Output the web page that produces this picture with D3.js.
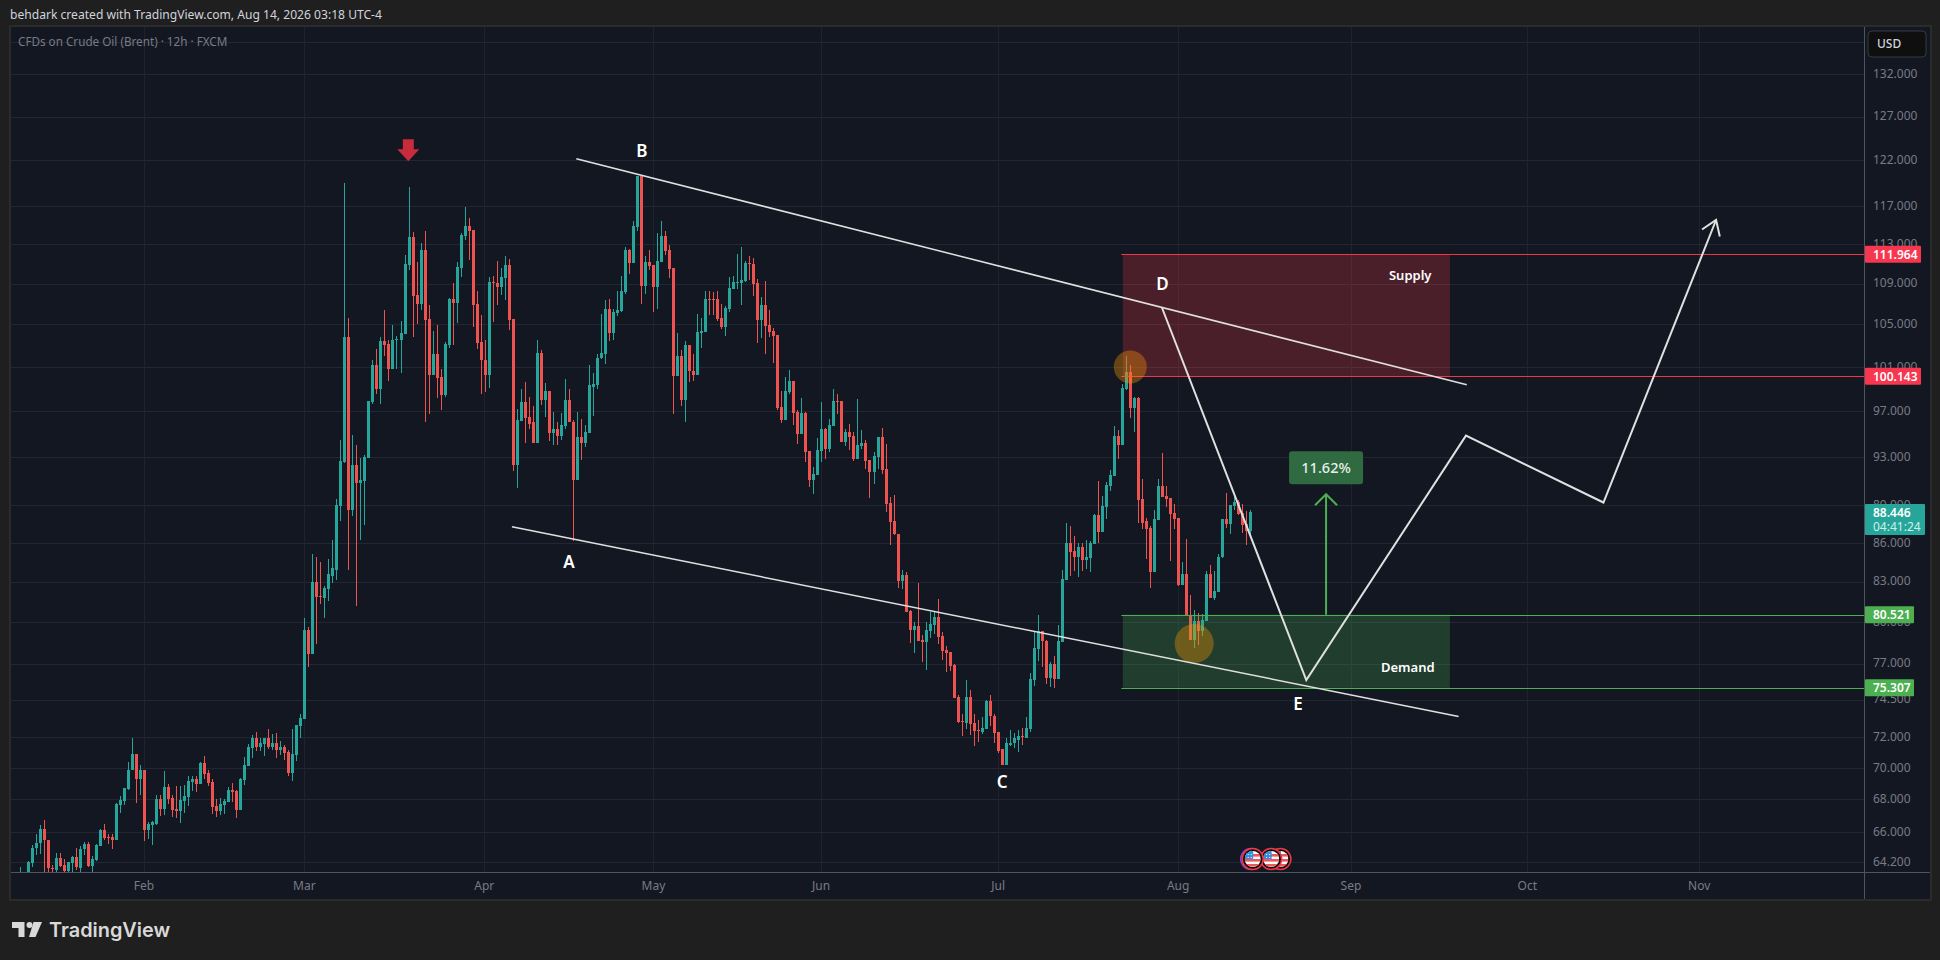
<!DOCTYPE html>
<html><head><meta charset="utf-8">
<script src="https://cdn.jsdelivr.net/npm/d3@7/dist/d3.min.js"></script>
<style>
html,body{margin:0;padding:0;background:#1f1f1f;overflow:hidden}
svg{display:block}
text{font-family:"Noto Sans",sans-serif}
</style></head><body>
<svg id="c" width="1940" height="960"></svg>
<script>
// ---------- DATA (Brent CFD, 12h bars) ----------
const opens=[63.0,63.4,63.4,64.18,65.03,65.32,66.2,65.55,63.85,63.75,
64.43,64.05,63.7,64.16,64.49,63.87,64.99,65.26,63.99,64.33,
65.17,66.15,65.73,65.7,65.5,67.65,67.9,68.63,69.83,70.86,
69.28,69.83,66.15,66.4,66.46,68.02,67.4,68.77,68.08,67.4,
67.27,67.9,68.15,69.1,69.27,68.96,70.28,69.65,69.08,67.58,
67.27,67.65,67.83,68.58,68.52,67.33,69.2,70.14,71.25,71.9,
71.31,71.55,71.95,71.36,71.63,71.15,71.36,71.03,69.65,70.8,
72.7,73.2,79.4,77.7,82.95,81.9,81.75,82.4,83.45,83.9,
88.9,92.6,103.8,88.6,92.3,90.8,91,92.94,97.85,101.2,
98.94,103.45,103.17,100.85,103.54,103.54,104.1,110.87,113.77,107.86,
107,112.4,105.5,100.3,102.24,100.03,98.4,103.08,107.5,107.08,
110.57,113.9,114.85,114.5,107,103.35,101.68,100.3,109.14,109.03,
108.64,109.55,110.87,105.5,92.35,96.16,97.85,96.5,96,94.25,
102.33,98.03,98.76,95.1,95.46,94.85,95.7,98.03,96.07,91.1,
94.7,94.25,95.1,99.2,99.3,101.8,102.24,106.5,104.2,106.1,
106.3,108.15,112.4,111.07,114.75,120.3,108.74,111.2,110.87,108.64,
111.2,113.8,112.4,110.57,100.2,102.05,98.03,103.08,100.67,100.3,
104.2,104.3,107.5,107.5,107.5,105.6,104.75,106.5,108.45,109.03,
109.03,109.24,111.07,110.97,109.03,105.42,106.9,104.94,104.4,104,
97.4,96.2,98.7,99.67,96.95,94.95,96.86,93.55,91.1,91.5,
93.55,95.4,93.72,95.7,97.94,97.94,94.33,95.2,94.85,92.86,
93.98,94.25,92.78,91.78,93,94.77,92.03,89.2,87.73,86.72,
83.03,83.5,80.77,79.38,79.67,78.67,78.52,79.3,79.74,80.33,
78.95,77.95,77.8,76.88,74.67,73.05,72.94,74.67,72.94,72.44,
72.3,72.55,74.4,73.4,72.3,71.18,70.2,71.5,71.57,71.82,
72.03,71.9,72.5,75.83,78.03,79.31,78.6,76,77,75.9,
78.52,83.1,86,85.33,84.87,85.65,84.64,84.82,85.9,88.2,
86.84,88.85,90.6,91.43,94.86,94,99,100.55,97.27,98.16,
89.5,87.7,87.13,83.7,87.8,90.6,89.75,89.58,88.35,87.95,
82.7,83.54,80.45,78.65,80.08,79.36,80.08,83.54,81.73,82.18,
84.85,87.86,87.46,88.92,89.25,88.35,87.46,86.9];
const highs=[63.9,63.5,64.25,65.2,65.88,66.44,66.75,65.55,64.05,64.76,
64.72,64.4,64.24,64.57,65.07,65.15,65.38,65.38,64.57,65.26,
66.2,66.5,65.88,65.88,67.75,68.19,68.69,70.35,71.9,70.86,
70.2,69.83,66.6,66.65,68.27,68.27,69.77,68.96,68.27,68.83,
68.83,68.9,69.46,69.46,69.46,70.35,70.73,69.83,69.27,68.02,
68.08,68.02,68.77,69.02,68.58,69.33,70.67,71.55,72.1,72.3,
71.95,71.95,72.5,72.17,72.23,71.76,71.5,71.15,72.55,72.77,
73.52,80.25,79.6,85.1,84.9,84.5,82.65,84.7,86.25,89.5,
94.5,119.5,105.6,94.9,94,92.9,93.2,97.94,101.6,102.7,
103.8,106.36,103.54,104.94,103.9,105.33,111.9,119.1,114.3,111.2,
113.14,114.4,106.9,104.38,104.94,100.85,103.35,107.6,109.03,111.2,
114.2,116.93,115.77,114.5,108.25,105.9,103.54,109.65,109.75,111.3,
110.55,111.8,111.5,105.5,97.2,98.94,99.6,98.3,97.48,103.54,
102.6,99.5,98.76,96.94,96,96.85,99.85,99,96.25,96.94,
96.33,95.8,101.2,100.4,102.24,106.03,107.4,107.5,106.5,108.25,
109.75,112.73,112.5,115.4,120.3,120.3,111.8,112.4,110.87,114.2,
115.4,114.4,112.93,110.57,104.2,102.6,103.45,103.08,102.24,106,
105.6,108.25,108.25,108.15,108.25,107,106.75,109.65,109.75,112,
112.73,111.3,111.8,111.6,109.5,107.66,109.24,106.4,104.66,104,
98.8,100.12,100.76,99.67,97.1,98.2,96.95,93.55,92.2,94.68,
97.85,95.55,96.33,99,98.5,97.94,95.46,95.9,95.2,98.07,
95.3,94.5,92.78,93.46,94.77,95.55,94.16,89.7,89.86,86.72,
83.87,83.7,80.85,79.95,82.88,79.03,80,80.7,80.77,81.68,
79.24,78.24,77.8,76.95,74.8,73.5,75.85,75.15,73.55,73.1,
73.3,74.45,74.8,73.55,72.3,71.18,71.9,72.43,72.25,72.43,
72.57,73.3,76.33,79.24,80.5,79.31,78.67,77.1,77.52,79.74,
83.87,87.57,87.35,86.5,86,86,86.2,86.1,88.3,91,
89.75,90.9,91.9,95.7,95.3,99.46,102,101.2,98.25,98.25,
91.17,87.95,87.3,88.6,91.2,93.35,90.6,89.58,89.08,87.95,
84.47,86.3,82,80.9,80.68,80.6,83.77,84.3,83.77,85.08,
87.86,90,89,90,89.4,89.08,88.5,88.6];
const lows=[62.9,63.1,63.2,63.9,64.63,64.68,63.4,63.4,63.5,63.4,
63.95,63.4,63.4,63.4,63.76,63.4,64.63,63.95,63.4,64.27,
65.17,65.5,65.26,64.97,65.5,67.15,67.65,68.56,69.83,67.77,
68.27,65.44,65.6,65.2,66.4,66.96,67.02,67.7,66.9,66.83,
66.52,67.15,67.58,68.52,68.46,68.96,69.27,68.83,67.08,66.9,
67.06,67.08,67.83,67.83,66.83,67.33,68.9,70.14,70.6,71.05,
71.05,70.73,71.22,71.15,70.62,70.8,70.5,69.46,69.15,70.42,
71.9,73.2,76.75,77.7,78.4,81.3,80.25,81.5,82.9,83.15,
87.7,92.5,83.85,88.1,81.15,86.25,87.4,92.94,97.67,98.5,
97.67,102.05,99.67,100.85,100.85,100.4,104.1,110.34,103.8,105.03,
106.4,96.07,96.77,100.3,98.2,97.1,98.3,102.8,103.08,105.1,
109.65,113.45,111.4,104.75,102.7,98.5,98.75,99.1,105.2,106.9,
107.9,107.4,104.5,91.8,90.45,96.16,94.25,95.46,94.25,94.25,
97.57,96.5,94.4,94,94,94.5,95.46,96,86.15,91.1,
92.78,93.9,95.1,96.6,98.94,101.7,101.3,103.45,103.54,105.8,
106.2,108,109.95,111.07,114.4,107,108,110.34,106.2,106.5,
111.2,111.9,109.55,96.77,100.2,97.48,96.07,99.6,99.67,100.3,
102.8,104.3,105.9,105.9,105.33,104.55,103.9,106.25,108.45,108.45,
106.9,109.14,109.34,107.77,103.26,103.73,102.24,103.8,101.4,97.1,
95.95,96.2,98.5,95.8,94.16,94.95,92.6,90.5,89.95,91.5,
92.6,92.86,93.46,95.7,96.77,94.33,93.98,93.64,92.7,92.86,
93.72,92.03,89.6,90.78,92,91.6,88.46,85.8,86.6,82.5,
82.45,80.7,78.43,77.74,78.6,77.1,76.54,78.8,79.1,78.38,
77.24,76.4,76.47,74.6,72.94,72.03,72.5,72.1,71.4,71.7,
72.2,72.55,72.7,71.57,70.96,70.15,70.15,71.38,71.25,71,
71.5,71.9,72.35,75.43,77.17,76.75,75.55,75.35,75.28,75.9,
78.52,83.1,83.4,83.8,83.33,83.8,83.95,83.7,85.9,86,
86.84,87.9,90.15,91.43,92.83,94,98.9,96.4,95.2,87.55,
87.05,84.75,82.5,83.7,87.8,89.67,88.84,84.6,87.05,82.63,
82.7,80.45,78.65,78.1,78.3,78.94,80.08,81.73,81.58,82.18,
84.77,87.13,86.7,88.6,88.2,86.8,85.85,86.55];
const closes=[63.4,63.2,64.2,65.07,65.36,66.2,65.5,63.85,63.8,64.43,
63.99,63.7,64.2,64.49,63.9,65.0,65.26,63.99,64.4,65.2,
66.15,65.67,65.7,65.5,67.7,67.96,68.69,69.88,70.86,69.3,
69.83,66.15,66.46,66.6,68.02,67.4,68.77,68.02,67.33,67.27,
67.96,68.2,69.15,69.27,68.96,70.28,69.6,69.02,67.52,67.27,
67.7,67.9,68.58,68.46,67.33,69.27,70.2,71.31,71.9,71.31,
71.63,71.95,71.36,71.63,71.15,71.36,70.97,69.65,70.86,72.77,
73.26,79.4,77.7,82.95,81.85,81.85,82.5,83.55,84,89,
92.7,103.8,88.6,92.3,90.8,91.1,93,97.94,101.2,98.94,
103.45,103.08,100.85,103.54,103.63,104.2,110.97,113.77,107.77,107,
112.4,105.42,100.3,102.24,99.94,98.4,103.17,107.5,107.08,110.67,
113.96,114.85,114.4,106.9,103.26,101.6,100.3,109.14,109.03,108.64,
109.65,110.87,105.42,92.35,96.25,97.85,96.42,95.9,94.25,102.33,
98.03,98.76,95.1,95.46,94.85,95.8,98.03,96,91.1,94.7,
94.25,95.2,99.3,99.4,101.87,102.33,106.5,104.2,106.2,106.4,
108.25,112.4,111.07,114.85,120.3,108.74,111.2,110.8,108.64,111.3,
113.8,112.3,110.46,100.2,102.05,98.03,103.08,100.58,100.3,104.3,
104.4,107.5,107.4,107.4,105.5,104.75,106.55,108.54,109.14,109.14,
109.34,111.07,110.97,108.94,105.42,106.9,104.85,104.3,103.9,97.3,
96.2,98.8,99.67,96.86,94.95,96.86,93.46,91.1,91.6,93.64,
95.4,93.72,95.8,97.94,97.85,94.33,95.2,94.77,92.86,94.07,
94.25,92.7,91.78,93.1,94.77,91.95,89.1,87.65,86.7,83.03,
83.5,80.7,79.38,79.67,78.6,78.52,79.38,79.8,80.33,78.88,
77.9,77.74,76.8,74.6,73,73,74.67,72.87,72.37,72.37,
72.6,74.4,73.4,72.25,71.1,70.2,71.57,71.63,71.9,72.03,
71.97,72.57,75.9,78.1,79.31,78.6,76,77,75.9,78.6,
83.2,86,85.26,84.87,85.65,84.64,84.87,85.95,88.2,86.84,
88.92,90.67,91.5,94.86,94,99.1,100.55,97.27,98.16,89.4,
87.6,87.05,83.7,87.86,90.6,89.67,89.5,88.27,87.86,82.7,
83.54,80.45,78.65,80.08,79.36,80.16,83.54,81.73,82.25,84.92,
87.86,87.46,89,89.25,88.27,87.38,86.9,88.43];

const priceTicks=[64.2,66,68,70,72,74.5,77,80,83,86,89,93,97,101,105,109,113,117,122,127,132];
const hiddenGridTicks=[136];
const monthLabels=["Feb","Mar","Apr","May","Jun","Jul","Aug","Sep","Oct","Nov"];
const monthBars=[31.02,71,115.9,158.1,199.9,244.1,289,332.1,376.1,419];

// drawings: [bar index, price]
const upperTrend=[[138.86,122.19],[361,99.36]];
const lowerTrend=[[122.8,87.26],[358.96,73.36]];
const projection=[[284.97,106.62],[320.97,75.84],[360.8,94.85],[395.1,89.22],[423.2,115.53]];
const supplyZone={from:275.2,to:356.8,top:111.964,bottom:100.143};
const demandZone={from:275.2,to:356.8,top:80.521,bottom:75.307};
const waveLabels=["A","B","C","D","E"];
const waveBars=[137,155.2,245.1,285.1,318.9];
const wavePrices=[84.53,123.09,69.1,108.96,74.24];
const zoneNames=["Supply","Demand"];
const zoneNameBars=[346.9,346.3];
const zoneNamePrices=[109.79,76.75];
const circleBars=[277.06,293];
const circlePrices=[101,78.43];
const circleRadii=[16.5,19.5];
const eventBars=[307.6,312.2,314.5];
const gainArrow={bar:325.9,from:80.521,to:89.9};
const gainLabel="11.62%";
const peakMarker={bar:96.95,price:124.4};
const tagPrices=[111.964,100.143,80.521,75.307];

// ---------- SCALES ----------
const svg=d3.select("#c");
const x=d3.scaleLinear().domain([0,307]).range([19.7,1250.3]);
const y=d3.scaleLog().domain([64.2,132]).range([862.3,74.3]);
const paneL=11,paneR=1930,paneT=27,paneB=899,plotR=1864,plotB=872;
const RED="#f23645",GRN="#4caf50",UP="#26a69a",DN="#ef5350",AXT="#787b86";

svg.append("rect").attr("width",1940).attr("height",960).attr("fill","#1f1f1f");
svg.append("rect").attr("x",paneL-1).attr("y",paneT-1).attr("width",paneR-paneL+2).attr("height",paneB-paneT+2)
   .attr("fill","#131722").attr("stroke","#2b2b2b").attr("stroke-width",2);
svg.append("defs").append("clipPath").attr("id","plot").append("rect")
   .attr("x",paneL).attr("y",paneT).attr("width",plotR-paneL).attr("height",plotB-paneT);

const plot=svg.append("g").attr("clip-path","url(#plot)");
// grid
plot.selectAll(".gh").data(priceTicks.concat(hiddenGridTicks)).join("rect")
  .attr("x",paneL).attr("width",plotR-paneL).attr("y",d=>Math.round(y(d))).attr("height",1).attr("fill","#232733");
plot.selectAll(".gv").data(monthBars).join("rect")
  .attr("x",d=>Math.round(x(d))).attr("width",1).attr("y",paneT).attr("height",plotB-paneT).attr("fill","#1f232e");

// candles
const idx=d3.range(closes.length);
const col=i=>closes[i]>=opens[i]?UP:DN;
plot.selectAll(".w").data(idx).join("rect")
  .attr("x",i=>Math.round(x(i))).attr("width",1)
  .attr("y",i=>Math.round(y(highs[i]))).attr("height",i=>Math.max(1,Math.round(y(lows[i]))-Math.round(y(highs[i]))))
  .attr("fill",col);
plot.selectAll(".b").data(idx).join("rect")
  .attr("x",i=>Math.round(x(i))-1).attr("width",3)
  .attr("y",i=>Math.round(y(Math.max(opens[i],closes[i]))))
  .attr("height",i=>Math.max(1,Math.round(y(Math.min(opens[i],closes[i])))-Math.round(y(Math.max(opens[i],closes[i])))))
  .attr("fill",col);

// zones
function zone(z,c,op){
  plot.append("rect").attr("x",x(z.from)).attr("width",x(z.to)-x(z.from))
    .attr("y",y(z.top)).attr("height",y(z.bottom)-y(z.top)).attr("fill",c).attr("opacity",op);
  [z.top,z.bottom].forEach(p=>plot.append("rect").attr("x",x(z.from)-1.5).attr("width",plotR-x(z.from)+1.5)
    .attr("y",Math.round(y(p))).attr("height",1).attr("fill",c));
}
zone(supplyZone,RED,.25);
zone(demandZone,GRN,.25);

// circles
plot.selectAll(".ci").data(circleBars).join("circle")
  .attr("cx",d=>x(d)).attr("cy",(d,i)=>y(circlePrices[i])).attr("r",(d,i)=>circleRadii[i])
  .attr("fill","#ff9800").attr("opacity",.35);

// trend lines
const ln=d3.line().x(d=>x(d[0])).y(d=>y(d[1]));
[upperTrend,lowerTrend].forEach(t=>plot.append("path").attr("d",ln(t)).attr("fill","none").attr("stroke","#e0e0e0").attr("stroke-width",1.5));
plot.append("path").attr("d",ln(projection)).attr("fill","none").attr("stroke","#e0e0e0").attr("stroke-width",2).attr("stroke-linejoin","miter");
// projection arrow head
{
  const a=projection[projection.length-2],b=projection[projection.length-1];
  const bx=x(b[0]),by=y(b[1]),ang=Math.atan2(by-y(a[1]),bx-x(a[0]));
  const L=17,sp=.6;
  plot.append("path").attr("d",`M${bx-L*Math.cos(ang-sp)},${by-L*Math.sin(ang-sp)}L${bx},${by}L${bx-L*Math.cos(ang+sp)},${by-L*Math.sin(ang+sp)}`)
    .attr("fill","none").attr("stroke","#e0e0e0").attr("stroke-width",2);
}
// gain arrow
{
  const gx=x(gainArrow.bar),y0=y(gainArrow.from),y1=y(gainArrow.to);
  plot.append("path").attr("d",`M${gx},${y0}V${y1}M${gx-11},${y1+11}L${gx},${y1}L${gx+11},${y1+11}`)
    .attr("fill","none").attr("stroke",GRN).attr("stroke-width",2);
  plot.append("rect").attr("x",gx-37).attr("y",y1-43).attr("width",74).attr("height",33).attr("rx",3).attr("fill","#2f6a40");
  plot.append("text").attr("x",gx).attr("y",y1-26.5).attr("dy",".36em").attr("text-anchor","middle")
    .attr("font-size",14.5).attr("font-weight",500).attr("fill","#e8f0ea").text(gainLabel);
}
// labels
plot.selectAll(".wl").data(waveLabels).join("text")
  .attr("x",(d,i)=>x(waveBars[i])).attr("y",(d,i)=>y(wavePrices[i])).attr("dy",".36em").attr("text-anchor","middle")
  .attr("font-size",17).attr("font-weight",600).attr("fill","#fff").text(d=>d);
plot.selectAll(".zl").data(zoneNames).join("text")
  .attr("x",(d,i)=>x(zoneNameBars[i])).attr("y",(d,i)=>y(zoneNamePrices[i])).attr("dy",".36em").attr("text-anchor","middle")
  .attr("font-size",13).attr("font-weight",600).attr("fill","#fff").text(d=>d);
// red marker
{
  const mx=x(peakMarker.bar),my=y(peakMarker.price);
  plot.append("path").attr("d",`M${mx-5.5},${my}h11v10h5.5L${mx},${my+22}L${mx-11},${my+10}h5.5z`).attr("fill","#c82b3c");
}
// event icons
{
  const defs=svg.select("defs");
  const g=plot.append("g");
  const drawIcon=(cx,ring,id)=>{
    const cy=859,s=g.append("g");
    s.append("circle").attr("cx",cx).attr("cy",cy).attr("r",10.5).attr("fill","#111").attr("stroke",ring).attr("stroke-width",1.5);
    defs.append("clipPath").attr("id",id).append("circle").attr("cx",cx).attr("cy",cy).attr("r",8);
    const f=s.append("g").attr("clip-path",`url(#${id})`);
    f.append("rect").attr("x",cx-8).attr("y",cy-8).attr("width",16).attr("height",16).attr("fill","#fff");
    [-4,1,6].forEach(o=>f.append("rect").attr("x",cx-8).attr("y",cy+o-1).attr("width",16).attr("height",2.6).attr("fill","#f0555a"));
    f.append("rect").attr("x",cx-8).attr("y",cy-8).attr("width",8.5).attr("height",8).attr("fill","#2f8fe0");
    [[-5,-5],[-2,-5],[-5,-2],[-2,-2]].forEach(o=>f.append("rect").attr("x",cx+o[0]).attr("y",cy+o[1]).attr("width",1).attr("height",1).attr("fill","#fff"));
  };
  drawIcon(x(eventBars[2]),RED,"e3");
  g.append("circle").attr("cx",x(eventBars[0])-1.5).attr("cy",859).attr("r",10.5).attr("fill","none").attr("stroke","#8e44c8").attr("stroke-width",1.5);
  drawIcon(x(eventBars[1]),RED,"e2");
  drawIcon(x(eventBars[0]),RED,"e1");
}

// axes
const ay=d3.axisRight(y).tickValues(priceTicks).tickSize(0).tickPadding(9).tickFormat(d3.format(".3f")).offset(0);
const gy=svg.append("g").attr("transform",`translate(${plotR},0)`).call(ay);
gy.select(".domain").remove();
gy.selectAll("text").attr("font-size",12).attr("fill",AXT).attr("font-family",'"Noto Sans"');
const ax=d3.axisBottom(x).tickValues(monthBars).tickSize(0).tickPadding(9).tickFormat((d,i)=>monthLabels[i]).offset(0);
const gx=svg.append("g").attr("transform",`translate(0,${plotB})`).call(ax);
gx.select(".domain").remove();
gx.selectAll("text").attr("font-size",12).attr("fill",AXT).attr("font-family",'"Noto Sans"');
svg.append("rect").attr("x",paneL).attr("y",plotB).attr("width",paneR-paneL).attr("height",1).attr("fill","#50535e");
svg.append("rect").attr("x",plotR).attr("y",paneT).attr("width",1).attr("height",paneB-paneT).attr("fill","#50535e");

// level tags
const tagColors=["#f7374f","#f7374f",GRN,GRN];
const tagWidths=[56,56,49,49];
tagPrices.forEach((p,i)=>{
  const yy=y(p);
  svg.append("rect").attr("x",1865).attr("y",yy-8.5).attr("width",tagWidths[i]).attr("height",17).attr("rx",1).attr("fill",tagColors[i]);
  svg.append("text").attr("x",1873).attr("y",yy).attr("dy",".36em").attr("font-size",12).attr("font-weight",600).attr("fill","#fff").text(d3.format(".3f")(p));
});
// last price tag
{
  svg.append("rect").attr("x",1865).attr("y",504).attr("width",60).attr("height",31).attr("rx",1).attr("fill",UP);
  svg.append("text").attr("x",1873).attr("y",513).attr("dy",".36em").attr("font-size",12).attr("font-weight",600).attr("fill","#fff").text("88.446");
  svg.append("text").attr("x",1873).attr("y",527).attr("dy",".36em").attr("font-size",12).attr("fill","#cfeeea").text("04:41:24");
}
// USD button
svg.append("rect").attr("x",1868).attr("y",31).attr("width",58).attr("height",26).attr("rx",4).attr("fill","#0f0f0f").attr("stroke","#363a45");
svg.append("text").attr("x",1877).attr("y",44).attr("dy",".36em").attr("font-size",12).attr("font-weight",500).attr("fill","#d1d4dc").text("USD");

// header / legend
svg.append("text").attr("x",10).attr("y",15).attr("dy",".36em").attr("font-size",12.1).attr("fill","#d1d4dc").text("behdark created with TradingView.com, Aug 14, 2026 03:18 UTC-4");
svg.append("text").attr("x",18).attr("y",42).attr("dy",".36em").attr("font-size",11.7).attr("fill",AXT).text("CFDs on Crude Oil (Brent) · 12h · FXCM");

// TradingView logo
const lg=svg.append("g").attr("fill","#d9d9d9");
lg.append("path").attr("d","M12,922H24.5V937H18.5V928H12z");
lg.append("circle").attr("cx",29.5).attr("cy",925).attr("r",3);
lg.append("path").attr("d","M33.5,922H42L35.5,937H29z");
svg.append("text").attr("x",49).attr("y",937).attr("font-size",19.9).attr("font-weight",600).attr("fill","#d9d9d9").attr("style",'font-family:Inter').text("TradingView");
</script>
</body></html>
